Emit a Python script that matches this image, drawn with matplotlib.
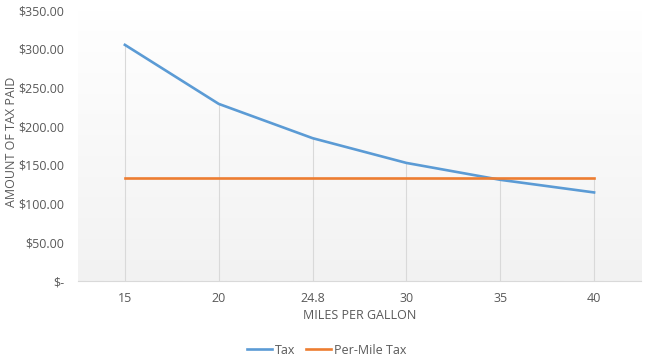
import numpy as np
import matplotlib.pyplot as plt

plt.rcParams['font.family'] = ['Open Sans', 'DejaVu Sans']

mpg_labels = ['15', '20', '24.8', '30', '35', '40']
tax = [305.00, 228.75, 184.48, 152.50, 130.71, 114.38]
per_mile_tax = [133.0, 133.0, 133.0, 133.0, 133.0, 133.0]

text_color = '#595959'

fig = plt.figure(figsize=(6.53, 3.64), dpi=100)
ax = fig.add_axes([0.1194, 0.228, 0.8622, 0.7445])

x = np.arange(len(mpg_labels))
ax.set_xlim(-0.5, len(mpg_labels) - 0.5)
ax.set_ylim(0, 350)

# plot area gradient: white at top to light grey at bottom
grad = np.linspace(1, 0, 256).reshape(-1, 1)
ax.imshow(grad, extent=[-0.5, len(mpg_labels) - 0.5, 0, 350], aspect='auto',
          cmap=plt.matplotlib.colors.LinearSegmentedColormap.from_list(
              'bg', ['#f2f2f2', '#ffffff']), zorder=0, origin='upper')

# drop lines
top = np.maximum(tax, per_mile_tax)
ax.vlines(x, 0, top, color='#d9d9d9', lw=0.8, zorder=1)

ax.plot(x, tax, color='#5b9bd5', lw=1.9, label='Tax', zorder=3)
ax.plot(x, per_mile_tax, color='#ed7d31', lw=1.9, label='Per-Mile Tax', zorder=3)

ax.set_xticks(x)
ax.set_xticklabels(mpg_labels)
yt = np.arange(0, 351, 50)
ax.set_yticks(yt)
ax.set_yticklabels(['$-'] + ['${:,.2f}'.format(v) for v in yt[1:]])
ax.tick_params(length=0, colors=text_color, labelsize=9)
ax.tick_params(axis='y', pad=10)
ax.tick_params(axis='x', pad=8)

for s in ['top', 'right', 'left']:
    ax.spines[s].set_visible(False)
ax.spines['bottom'].set_color('#d9d9d9')

ax.set_xlabel('MILES PER GALLON', color=text_color, fontsize=9, labelpad=3)
fig.text(12 / 653, 1 - 142 / 364, 'AMOUNT OF TAX PAID', color=text_color,
         fontsize=9, rotation=90, ha='center', va='center')

fig.legend(*ax.get_legend_handles_labels(), loc='center',
           bbox_to_anchor=(0.5, 1 - 350 / 364), ncol=2, frameon=False,
           fontsize=9, labelcolor=text_color, handlelength=2.0, handletextpad=0.2,
           columnspacing=0.9)

fig.savefig('out.png', dpi=100)
